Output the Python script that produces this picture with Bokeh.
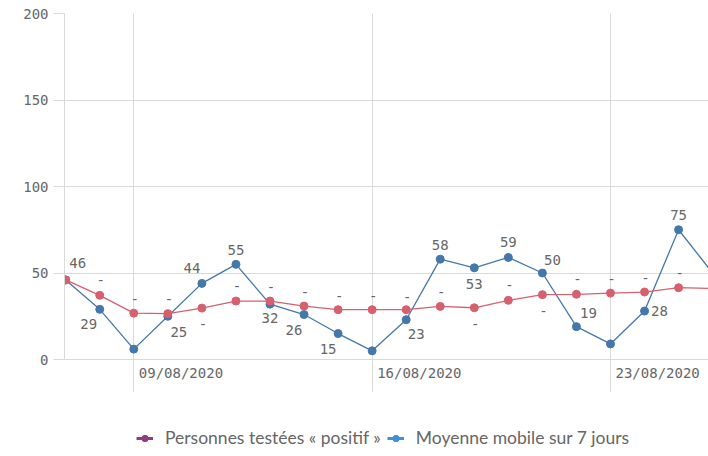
import pandas as pd
from bokeh.plotting import figure
from bokeh.layouts import column
from bokeh.models import (Range1d, FixedTicker, ColumnDataSource, LabelSet,
                          Legend, LegendItem)
from bokeh.embed import file_html
from bokeh.resources import INLINE
from bokeh.core.properties import value

# ---------------- data ----------------
dates = ["2020-08-07", "2020-08-08", "2020-08-09", "2020-08-10", "2020-08-11",
         "2020-08-12", "2020-08-13", "2020-08-14", "2020-08-15", "2020-08-16",
         "2020-08-17", "2020-08-18", "2020-08-19", "2020-08-20", "2020-08-21",
         "2020-08-22", "2020-08-23", "2020-08-24", "2020-08-25", "2020-08-26"]
cas_positifs = [46, 29, 6, 25, 44, 55, 32, 26, 15, 5,
                23, 58, 53, 59, 50, 19, 9, 28, 75, 50]
moyenne_mobile = [46, 37.1, 26.8, 26.5, 29.7, 33.8, 33.8, 30.9, 28.8, 28.8,
                  28.8, 30.7, 29.9, 34.2, 37.5, 37.7, 38.4, 39.0, 41.5, 41.0]
x_tick_dates = ["2020-08-09", "2020-08-16", "2020-08-23"]
x_tick_labels = ["09/08/2020", "16/08/2020", "23/08/2020"]
y_ticks = [0, 50, 100, 150, 200]
series_names = ["Personnes testées « positif »", "Moyenne mobile sur 7 jours"]

# ---------------- label placement (style: screen-pixel offsets, None = hidden) ----------------
value_label_offsets = [(12, 17), (-11, -15), None, (11, -16), (-10, 15),
                       (0, 14), (0, -14), (-10, -15), (-10, -15), None,
                       (10, -14), (0, 14), (0, -16), (0, 15), (10, 13),
                       (12, 14), None, (15, 0), (0, 15), None]
dash_offsets = [None, 15, 14, 15, -16, 15, 14, 14, 14, 14,
                13, 14, -16, 15, -16, 15, 14, 14, 15, None]

# ---------------- styles ----------------
BLUE = "#4477aa"
RED = "#d7606f"
GRID = "#d9d9d9"
TXT = "#666666"
MONO = "DejaVu Sans Mono"
LEG_PURPLE = "#8c3d82"
LEG_BLUE = "#3f8fdc"
PX_PER_DAY = 34.05
PX_PER_UNIT = 346 / 200.0
FRAME_W = 708 - 64
FRAME_H = 392 - 13

x = pd.to_datetime(dates)
day = pd.Timedelta(days=1)
x_start = x[0] - 0.035 * day
x_end = x_start + (FRAME_W / PX_PER_DAY) * day
y_bottom = -(FRAME_H - 346) / PX_PER_UNIT

p = figure(width=708, height=392, x_axis_type="datetime",
           x_range=Range1d(x_start, x_end), y_range=Range1d(y_bottom, 200),
           output_backend="svg", toolbar_location=None,
           min_border_left=64, min_border_right=0, min_border_top=13,
           min_border_bottom=0)
p.outline_line_color = None
p.background_fill_color = "white"
p.border_fill_color = "white"

# axes
p.xaxis.visible = False
tick_ms = [int(t.value // 10**6) for t in pd.to_datetime(x_tick_dates)]
p.xgrid.ticker = FixedTicker(ticks=tick_ms)
p.xgrid.grid_line_color = GRID

p.yaxis.ticker = FixedTicker(ticks=y_ticks)
p.yaxis.bounds = (y_ticks[0], y_ticks[-1])
p.yaxis.axis_line_color = GRID
p.yaxis.major_tick_line_color = GRID
p.yaxis.major_tick_out = 11
p.yaxis.major_tick_in = 0
p.yaxis.minor_tick_line_color = None
p.yaxis.major_label_standoff = 5
p.yaxis.major_label_text_font = MONO
p.yaxis.major_label_text_font_size = "14px"
p.yaxis.major_label_text_color = TXT
p.ygrid.ticker = FixedTicker(ticks=y_ticks)
p.ygrid.grid_line_color = GRID

# series
src = ColumnDataSource(dict(x=x, cas=cas_positifs, moy=moyenne_mobile))
p.line("x", "cas", source=src, color=BLUE, line_width=1.3)
p.scatter("x", "cas", source=src, size=8, color=BLUE)
p.line("x", "moy", source=src, color=RED, line_width=1.3)
p.scatter("x", "moy", source=src, size=8, color=RED)

# value labels on blue series
vl = dict(x=[], y=[], text=[], dx=[], dy=[])
for d, v, off in zip(x, cas_positifs, value_label_offsets):
    if off is None:
        continue
    vl["x"].append(d); vl["y"].append(v); vl["text"].append(str(v))
    vl["dx"].append(off[0]); vl["dy"].append(off[1])
p.add_layout(LabelSet(x="x", y="y", text="text", x_offset="dx", y_offset="dy",
                      source=ColumnDataSource(vl), text_font=value(MONO),
                      text_font_size="14px", text_color=TXT,
                      text_align="center", text_baseline="middle"))

# dash labels on red series
dl = dict(x=[], y=[], text=[], dy=[])
for d, v, off in zip(x, moyenne_mobile, dash_offsets):
    if off is None:
        continue
    dl["x"].append(d); dl["y"].append(v); dl["text"].append("-"); dl["dy"].append(off)
p.add_layout(LabelSet(x="x", y="y", text="text", x_offset=1, y_offset="dy",
                      source=ColumnDataSource(dl), text_font=value(MONO),
                      text_font_size="14px", text_color=TXT,
                      text_align="center", text_baseline="middle"))

# x tick labels (left-aligned next to the tick)
p.add_layout(LabelSet(x="x", y="y", text="text", x_offset=5, y_offset=-13,
                      source=ColumnDataSource(dict(x=pd.to_datetime(x_tick_dates),
                                                   y=[0] * len(x_tick_dates),
                                                   text=x_tick_labels)),
                      text_font=value(MONO), text_font_size="14px",
                      text_color=TXT, text_align="left", text_baseline="middle"))

# ---------------- legend strip ----------------
# The legend renderers plot the series out of this strip's visible range,
# so that only their legend glyphs appear.
q = figure(width=708, height=64, x_range=Range1d(0, 1), y_range=Range1d(-2, -1),
           output_backend="svg", toolbar_location=None,
           min_border_left=0, min_border_right=0, min_border_top=0,
           min_border_bottom=0)
q.axis.visible = False
q.grid.visible = False
q.outline_line_color = None
q.border_fill_color = "white"
idx = list(range(len(dates)))
qsrc = ColumnDataSource(dict(i=idx, cas=cas_positifs, moy=moyenne_mobile))
l1 = q.line("i", "cas", source=qsrc, color=LEG_PURPLE, line_width=3)
m1 = q.scatter("i", "cas", source=qsrc, color=LEG_PURPLE, size=9)
l2 = q.line("i", "moy", source=qsrc, color=LEG_BLUE, line_width=3)
m2 = q.scatter("i", "moy", source=qsrc, color=LEG_BLUE, size=9)
legend = Legend(items=[LegendItem(label=series_names[0], renderers=[l1, m1]),
                       LegendItem(label=series_names[1], renderers=[l2, m2])],
                location=(72, 8), orientation="horizontal",
                glyph_width=17, glyph_height=16, label_height=16,
                label_standoff=12, spacing=6, padding=0, margin=0,
                border_line_color=None, background_fill_alpha=0,
                label_text_font="Lato", label_text_font_size="17.5px",
                label_text_color=TXT, label_text_baseline="middle")
q.add_layout(legend, "center")

layout = column(p, q, spacing=0)
open("out.html", "w").write(file_html(layout, INLINE))
